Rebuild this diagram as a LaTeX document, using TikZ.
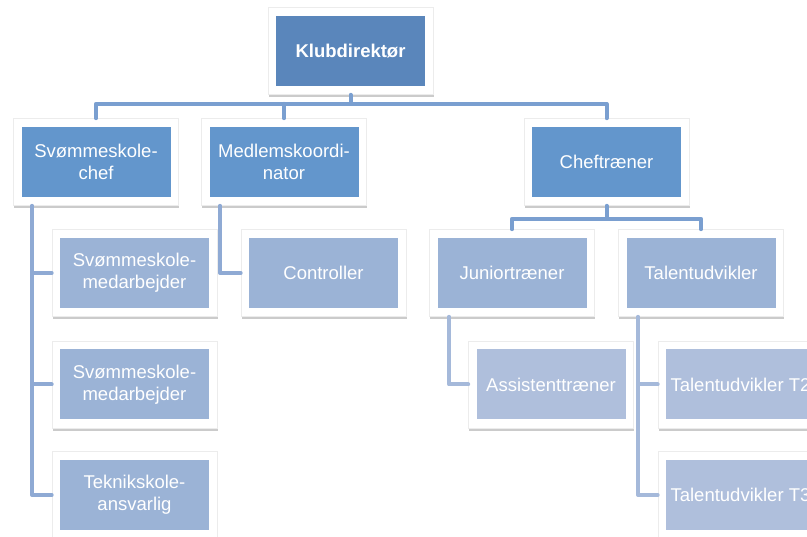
\documentclass[tikz,border=0pt]{standalone}
\usepackage{fontspec}
\setmainfont{Liberation Sans}
\usetikzlibrary{shadows}
\definecolor{cTop}{HTML}{5A86BB}
\definecolor{cMid}{HTML}{6396CC}
\definecolor{cLow}{HTML}{9BB3D6}
\definecolor{cLeaf}{HTML}{AFBFDC}
\definecolor{lnA}{HTML}{7A9FD0}
\definecolor{lnB}{HTML}{8FAAD4}
\definecolor{lnC}{HTML}{A5B9DA}
\tikzset{
  frm/.style={draw=gray!15, line width=0.6pt, fill=white, minimum width=165pt, minimum height=87pt, inner sep=0pt,
    drop shadow={shadow xshift=0.5pt, shadow yshift=-3pt, opacity=0.5, fill=gray!80}},
  inbox/.style={fill=#1, draw=none, minimum width=149pt, minimum height=70pt, inner sep=0pt, text=white, align=center,
    font=\fontsize{18.5}{22}\selectfont},
  conn/.style={draw=#1, line width=4pt, line cap=round, line join=round},
}
\begin{document}
\begin{tikzpicture}[x=1pt,y=-1pt]
\clip (0,0) rectangle (807,537);
\fill[white] (0,0) rectangle (807,537);
% frames
\node[frm] (kdF) at (350.5,51) {};
\node[frm] (scF) at (96,162) {};
\node[frm] (mkF) at (284,162) {};
\node[frm] (ctF) at (606.5,162) {};
\node[frm] (jtF) at (512,273) {};
\node[frm] (tuF) at (701,273) {};
\node[frm] (sm1F) at (134.5,273) {};
\node[frm] (coF) at (323.5,273) {};
\node[frm] (sm2F) at (134.5,384.5) {};
\node[frm] (atF) at (551,384.5) {};
\node[frm] (t2F) at (740.5,384.5) {};
\node[frm] (teF) at (134.5,495) {};
\node[frm] (t3F) at (740.5,495) {};
% inner boxes
\node[inbox=cTop, font=\fontsize{18.5}{22}\selectfont\bfseries] (kd) at (kdF) {Klubdirektør};
\node[inbox=cMid] (sc) at (scF) {Svømmeskole-\\chef};
\node[inbox=cMid] (mk) at (mkF) {Medlemskoordi-\\nator};
\node[inbox=cMid] (ct) at (ctF) {Cheftræner};
\node[inbox=cLow] (jt) at (jtF) {Juniortræner};
\node[inbox=cLow] (tu) at (tuF) {Talentudvikler};
\node[inbox=cLow] (sm1) at (sm1F) {Svømmeskole-\\medarbejder};
\node[inbox=cLow] (co) at (coF) {Controller};
\node[inbox=cLow] (sm2) at (sm2F) {Svømmeskole-\\medarbejder};
\node[inbox=cLeaf] (at) at (atF) {Assistenttræner};
\node[inbox=cLeaf] (t2) at (t2F) {Talentudvikler T2};
\node[inbox=cLow] (te) at (teF) {Teknikskole-\\ansvarlig};
\node[inbox=cLeaf] (t3) at (t3F) {Talentudvikler T3};
% connectors
\draw[conn=lnA] (kdF.south) -- ++(0,9) coordinate (h1);
\draw[conn=lnA] (scF.north) -- (scF.north |- h1) -- (ctF.north |- h1) -- (ctF.north);
\draw[conn=lnA] (mkF.north) -- (mkF.north |- h1);
\draw[conn=lnA] (ctF.south) -- ++(0,13) coordinate (h2);
\draw[conn=lnA] (jtF.north) -- (jtF.north |- h2) -- (tuF.north |- h2) -- (tuF.north);
\coordinate (scv) at ([xshift=-64pt]scF.south);
\draw[conn=lnB] (scv) -- (scv |- teF.west) -- (teF.west);
\draw[conn=lnB] (scv |- sm1F.west) -- (sm1F.west);
\draw[conn=lnB] (scv |- sm2F.west) -- (sm2F.west);
\coordinate (mkv) at ([xshift=-64pt]mkF.south);
\draw[conn=lnB] (mkv) -- (mkv |- coF.west) -- (coF.west);
\coordinate (jtv) at ([xshift=-63pt]jtF.south);
\draw[conn=lnC] (jtv) -- (jtv |- atF.west) -- (atF.west);
\coordinate (tuv) at ([xshift=-63pt]tuF.south);
\draw[conn=lnC] (tuv) -- (tuv |- t3F.west) -- (t3F.west);
\draw[conn=lnC] (tuv |- t2F.west) -- (t2F.west);
\end{tikzpicture}
\end{document}
